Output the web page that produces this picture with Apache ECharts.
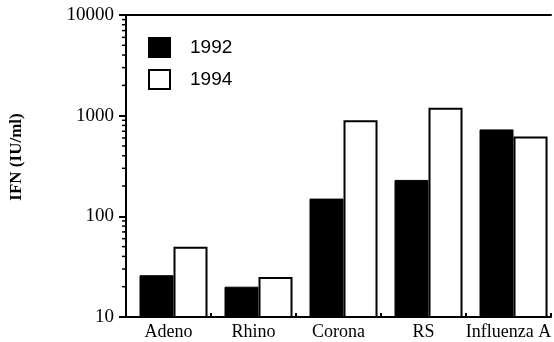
<!DOCTYPE html>
<html>
<head>
<meta charset="utf-8">
<script src="https://cdn.jsdelivr.net/npm/echarts@6/dist/echarts.min.js"></script>
<style>
html,body{margin:0;padding:0;background:#fff;}
#chart{width:554px;height:342px;}
</style>
</head>
<body>
<div id="chart"></div>
<script>
const categories = ['Adeno', 'Rhino', 'Corona', 'RS', 'Influenza A'];
const values1992 = [26, 20, 150, 230, 730];
const values1994 = [50, 25, 900, 1200, 620];
const yTickValues = [10, 100, 1000, 10000];
const yMinorTicks = [20, 30, 40, 50, 60, 70, 80, 90,
                     200, 300, 400, 500, 600, 700, 800, 900,
                     2000, 3000, 4000, 5000, 6000, 7000, 8000, 9000];

const serif = '"Liberation Serif", "DejaVu Serif", serif';
const sans = '"Liberation Sans", Arial, sans-serif';

const chart = echarts.init(document.getElementById('chart'));
chart.setOption({
  animation: false,
  backgroundColor: '#fff',
  grid: { left: 125, right: 1.5, top: 15, bottom: 25, containLabel: false },
  legend: {
    data: ['1992', '1994'],
    orient: 'vertical',
    left: 148,
    top: 37,
    padding: 0,
    itemWidth: 21,
    itemHeight: 19,
    itemGap: 11,
    icon: 'rect',
    textStyle: { fontFamily: sans, fontSize: 19, color: '#000', padding: [0, 0, 0, 15] }
  },
  xAxis: [{
    type: 'category',
    data: categories,
    position: 'bottom',
    axisLine: { lineStyle: { color: '#000', width: 2 } },
    axisTick: { show: true, inside: true, length: 4, lineStyle: { color: '#000', width: 2 } },
    axisLabel: { fontFamily: serif, fontSize: 18, color: '#000', margin: 6, interval: 0 }
  }, {
    type: 'category',
    data: categories,
    position: 'top',
    axisLine: { lineStyle: { color: '#000', width: 2 } },
    axisTick: { show: false },
    axisLabel: { show: false }
  }],
  yAxis: {
    type: 'log',
    logBase: 10,
    min: yTickValues[0],
    max: yTickValues[yTickValues.length - 1],
    name: 'IFN (IU/ml)',
    nameLocation: 'middle',
    nameRotate: 90,
    nameGap: 101,
    nameTextStyle: { fontFamily: serif, fontSize: 17, fontWeight: 'bold', color: '#000', padding: [0, 0, 0, 18] },
    axisLine: { show: true, lineStyle: { color: '#000', width: 2 } },
    axisTick: { show: true, length: 7, lineStyle: { color: '#000', width: 2 } },
    splitLine: { show: false },
    axisLabel: {
      fontFamily: serif, fontSize: 19, color: '#000', margin: 12,
      formatter: function (v) { return String(Math.round(v)); }
    }
  },
  series: [
    { name: 'spacer', type: 'bar', data: [], barWidth: 10, barGap: '0%', silent: true },
    {
      name: '1992', type: 'bar', data: values1992, barWidth: 34, barGap: '0%',
      itemStyle: { color: '#000', borderColor: '#000', borderWidth: 1 }
    },
    {
      name: '1994', type: 'bar', data: values1994, barWidth: 34, barGap: '0%',
      itemStyle: { color: '#fff', borderColor: '#000', borderWidth: 2 }
    },
    {
      name: 'minorTicks', type: 'custom', silent: true, clip: false,
      data: yMinorTicks.map(function (v) { return [0, v]; }),
      renderItem: function (params, api) {
        const y = api.coord([0, api.value(1)])[1];
        const x0 = params.coordSys.x;
        return {
          type: 'line',
          shape: { x1: x0 - 4, y1: y, x2: x0, y2: y },
          style: { stroke: '#000', lineWidth: 1.5 }
        };
      }
    }
  ]
});
</script>
</body>
</html>
